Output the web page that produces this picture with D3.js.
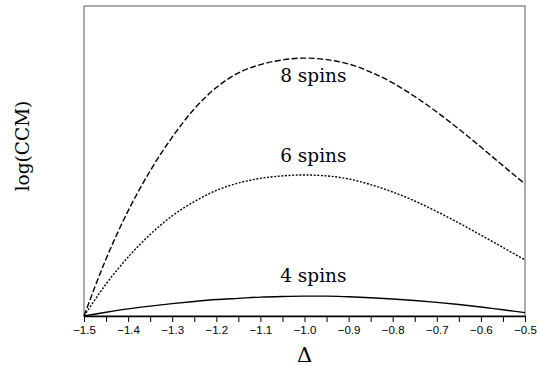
<!DOCTYPE html>
<html>
<head>
<meta charset="utf-8">
<script src="https://cdn.jsdelivr.net/npm/d3@7"></script>
<style>
  body { margin: 0; background: #fff; }
  svg { display: block; }
</style>
</head>
<body>
<script>
// chart data
var delta = [-1.5, -1.45, -1.4, -1.35, -1.3, -1.25, -1.2, -1.15, -1.1, -1.05, -1.0,
             -0.95, -0.9, -0.85, -0.8, -0.75, -0.7, -0.65, -0.6, -0.55, -0.5];
var spins8 = [0, 0.184, 0.339, 0.468, 0.577, 0.668, 0.737, 0.784, 0.811, 0.826, 0.832,
              0.827, 0.813, 0.787, 0.752, 0.708, 0.658, 0.603, 0.545, 0.485, 0.426];
var spins6 = [0, 0.103, 0.190, 0.263, 0.323, 0.369, 0.405, 0.429, 0.444, 0.452, 0.455,
              0.452, 0.442, 0.424, 0.400, 0.371, 0.337, 0.300, 0.261, 0.221, 0.181];
var spins4 = [0, 0.012, 0.023, 0.032, 0.040, 0.047, 0.053, 0.057, 0.061, 0.063, 0.064,
              0.064, 0.062, 0.059, 0.055, 0.050, 0.044, 0.037, 0.029, 0.020, 0.011];
var seriesNames = ['8 spins', '6 spins', '4 spins'];
var tickValues = [-1.5, -1.4, -1.3, -1.2, -1.1, -1.0, -0.9, -0.8, -0.7, -0.6, -0.5];
var minorTicks = d3.range(-1.5, -0.499, 0.05);

var width = 537;
var height = 366;
var plotLeft = 84, plotRight = 525, plotTop = 6, plotBottom = 316;
var serif = "'DejaVu Serif', 'Liberation Serif', serif";
var sans = "'Liberation Sans', Arial, sans-serif";

var svg = d3.select("body")
  .append("svg")
  .attr("width", width)
  .attr("height", height);

var x = d3.scaleLinear().domain([-1.5, -0.5]).range([plotLeft, plotRight]);
var y = d3.scaleLinear().domain([0, 1]).range([plotBottom, plotTop]);

// frame
svg.append('rect')
  .attr('x', plotLeft).attr('y', plotTop)
  .attr('width', plotRight - plotLeft).attr('height', plotBottom - plotTop)
  .attr('fill', 'none')
  .attr('stroke', '#808080')
  .attr('stroke-width', 1.3);

// x axis, ticks every 0.05, labels every 0.1
var axis = d3.axisBottom(x)
  .tickValues(minorTicks)
  .tickSize(6)
  .tickSizeOuter(0)
  .tickFormat(function(d) {
    var r = Math.round(d * 100) / 100;
    var hit = tickValues.some(function(t) { return Math.abs(t - r) < 1e-6; });
    return hit ? d3.format('.1f')(r) : '';
  });

var gx = svg.append('g')
  .attr('transform', 'translate(0,' + plotBottom + ')')
  .call(axis);
gx.select('.domain').attr('stroke', '#000').attr('stroke-width', 1.3);
gx.selectAll('.tick line').attr('stroke', '#000');
gx.selectAll('.tick text')
  .style('font-family', sans)
  .style('font-size', '11.5px')
  .attr('fill', '#000')
  .attr('y', 9)
  .attr('dy', '0.8em');

// curves
var line = d3.line()
  .x(function(d) { return x(d[0]); })
  .y(function(d) { return y(d[1]); })
  .curve(d3.curveMonotoneX);

var series = [
  { name: seriesNames[0], values: spins8, dash: '6,2.5' },
  { name: seriesNames[1], values: spins6, dash: '2,1.6' },
  { name: seriesNames[2], values: spins4, dash: null }
];

series.forEach(function(s) {
  var pts = delta.map(function(d, i) { return [d, s.values[i]]; });
  var p = svg.append('path')
    .datum(pts)
    .attr('d', line)
    .attr('fill', 'none')
    .attr('stroke', '#000')
    .attr('stroke-width', 1.4);
  if (s.dash) p.attr('stroke-dasharray', s.dash);
});

// series labels
var labelY = [0.755, 0.497, 0.110];
series.forEach(function(s, i) {
  svg.append('text')
    .attr('x', x(-0.98))
    .attr('y', y(labelY[i]))
    .attr('text-anchor', 'middle')
    .style('font-family', serif)
    .style('font-size', '18.5px')
    .attr('fill', '#000')
    .text(s.name);
});

// axis titles
svg.append('text')
  .attr('x', x(-1.0))
  .attr('y', 362)
  .attr('text-anchor', 'middle')
  .style('font-family', serif)
  .style('font-size', '21px')
  .text('\u0394');

svg.append('text')
  .attr('transform', 'translate(29,146) rotate(-90)')
  .attr('text-anchor', 'middle')
  .style('font-family', serif)
  .style('font-size', '18.5px')
  .text('log(CCM)');
</script>
</body>
</html>
